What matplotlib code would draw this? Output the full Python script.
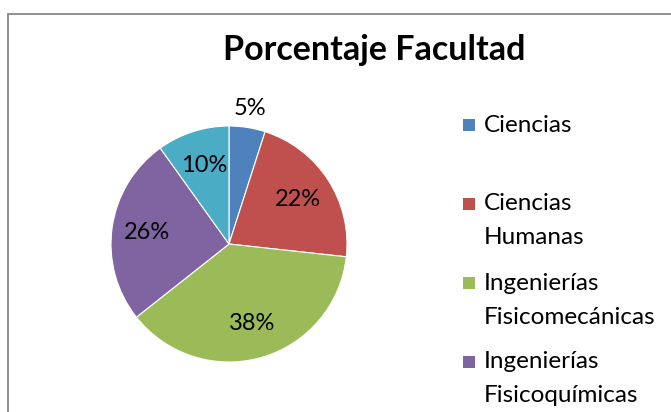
import numpy as np
import matplotlib.pyplot as plt
from matplotlib.patches import Rectangle

plt.rcParams['font.family'] = ['Lato', 'DejaVu Sans']

facultades = ["Ciencias", "Ciencias\nHumanas", "Ingenierías\nFisicomecánicas",
              "Ingenierías\nFisicoquímicas", "Otras\nFacultades"]
porcentajes = [5, 22, 38, 26, 10]
colores = ["#4F81BD", "#C0504D", "#9BBB59", "#8064A2", "#4BACC6"]

W, H = 671, 412
fig = plt.figure(figsize=(W / 100, H / 100), dpi=100)

# chart frame (cut on the right and bottom like the screenshot)
fig.add_artist(Rectangle((8 / W, -0.1), 1.2, (H - 14) / H + 0.1,
                         transform=fig.transFigure, fill=False,
                         edgecolor="#878787", lw=1.3))

fig.text(374 / W, 1 - 50 / H, "Porcentaje Facultad", ha="center", va="center",
         fontsize=24.5, fontweight="bold")

# pie: centre (229, 244) px, radius 118 px
r = 118
ax = fig.add_axes([(229 - r) / W, (H - 244 - r) / H, 2 * r / W, 2 * r / H])
wedges, _ = ax.pie(porcentajes, colors=colores, startangle=90, counterclock=False,
                   radius=1, wedgeprops=dict(linewidth=0.8, edgecolor="white"))
ax.set_xlim(-1, 1)
ax.set_ylim(-1, 1)
ax.set_aspect("auto")
ax.axis("off")

for w, v in zip(wedges, porcentajes):
    ang = np.deg2rad((w.theta1 + w.theta2) / 2)
    d = 1.16 if v < 7 else 0.7
    ax.text(d * np.cos(ang), d * np.sin(ang), f"{v}%", ha="center", va="center",
            fontsize=17, clip_on=False)

# legend, drawn by hand so every entry takes the same slot
for i, (lab, col) in enumerate(zip(facultades, colores)):
    yc = 125 + i * 79
    fig.add_artist(Rectangle((463 / W, 1 - (yc + 6) / H), 12 / W, 12 / H,
                             transform=fig.transFigure, facecolor=col, edgecolor="none"))
    for j, line in enumerate(lab.split("\n")):
        y = yc + j * 34
        if y > H + 20:
            continue
        fig.text(484 / W, 1 - y / H, line, ha="left", va="center", fontsize=17.5)

fig.savefig("out.png", dpi=100)
